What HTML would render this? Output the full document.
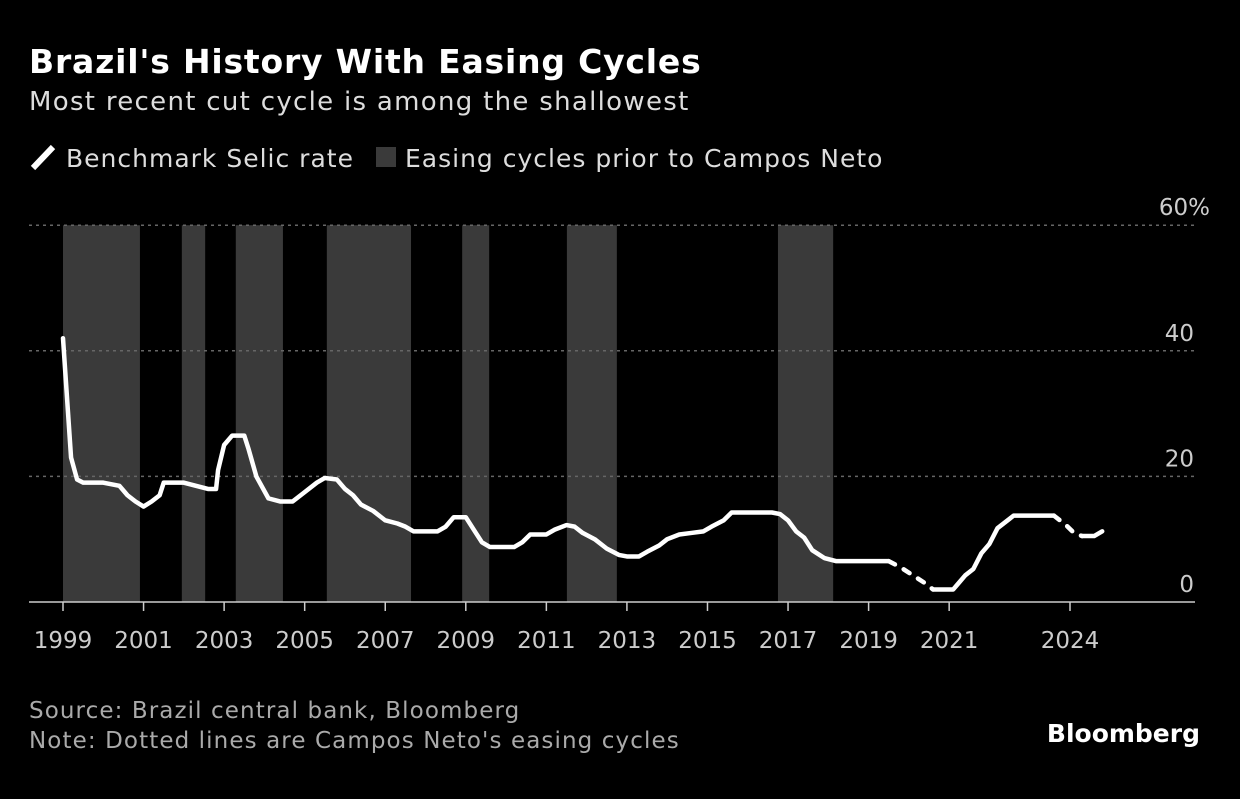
<!DOCTYPE html>
<html><head><meta charset="utf-8"><style>
body{margin:0;background:#000;width:1240px;height:794px;overflow:hidden;font-family:"Liberation Sans","DejaVu Sans",sans-serif;}
svg text{font-family:"DejaVu Sans","Liberation Sans",sans-serif;}
</style></head><body>
<svg id="chart" width="1240" height="794" xmlns="http://www.w3.org/2000/svg">
<text x="29" y="73" fill="#fff" font-size="33" font-weight="bold" letter-spacing="0.8">Brazil's History With Easing Cycles</text>
<text x="29" y="110" fill="#ddd" font-size="26" letter-spacing="1.3">Most recent cut cycle is among the shallowest</text>
<g>
<line x1="33" y1="168" x2="53" y2="147" stroke="#fff" stroke-width="6"/>
<text x="66" y="167" fill="#ddd" font-size="25" letter-spacing="1">Benchmark Selic rate</text>
<rect x="376" y="147" width="20" height="20" fill="#3a3a3a"/>
<text x="405" y="167" fill="#ddd" font-size="25" letter-spacing="1">Easing cycles prior to Campos Neto</text>
</g>
<g id="bands"></g><g id="grid"></g><g id="series"></g><g id="xaxis"></g>
<text x="29" y="718" fill="#aaa" font-size="23" letter-spacing="1.1">Source: Brazil central bank, Bloomberg</text>
<text x="29" y="748" fill="#aaa" font-size="23" letter-spacing="1.1">Note: Dotted lines are Campos Neto's easing cycles</text>
<text x="1200" y="742" fill="#fff" font-size="25" font-weight="bold" text-anchor="end" font-family="Liberation Sans">Bloomberg</text>
</svg>
<script>
const yTicks=[0,20,40,60];
const xTickYears=[1999,2001,2003,2005,2007,2009,2011,2013,2015,2017,2019,2021,2024];
const bandStarts=[1999.0,2001.95,2003.29,2005.55,2008.91,2011.51,2016.75];
const bandEnds=[2000.91,2002.53,2004.46,2007.64,2009.58,2012.75,2018.12];
const dottedStarts=[2019.5,2023.6];
const dottedEnds=[2020.6,2024.3];
const years=[1999.0,1999.2,1999.35,1999.5,2000.0,2000.4,2000.6,2000.8,2001.0,2001.2,2001.4,2001.5,2002.0,2002.3,2002.6,2002.8,2002.85,2003.0,2003.2,2003.5,2003.6,2003.8,2004.1,2004.4,2004.7,2005.0,2005.3,2005.5,2005.8,2006.0,2006.2,2006.4,2006.7,2007.0,2007.3,2007.5,2007.7,2008.3,2008.5,2008.7,2009.0,2009.2,2009.4,2009.6,2010.2,2010.4,2010.6,2011.0,2011.2,2011.5,2011.7,2011.9,2012.2,2012.5,2012.8,2013.0,2013.3,2013.5,2013.8,2014.0,2014.3,2014.6,2014.9,2015.1,2015.4,2015.6,2016.6,2016.8,2017.0,2017.2,2017.4,2017.6,2017.9,2018.2,2019.5,2019.8,2020.1,2020.4,2020.6,2021.1,2021.2,2021.4,2021.6,2021.8,2022.0,2022.2,2022.5,2022.6,2023.6,2023.9,2024.1,2024.3,2024.6,2024.8];
const rates=[42,23,19.5,19,19,18.5,17,16,15.2,16,17,19,19,18.5,18,18,21,25,26.5,26.5,24.5,20,16.5,16,16,17.5,19,19.75,19.5,18,17,15.5,14.5,13,12.5,12,11.25,11.25,12,13.5,13.5,11.5,9.5,8.75,8.75,9.5,10.75,10.75,11.5,12.25,12,11,10,8.5,7.5,7.25,7.25,8,9,10,10.75,11,11.25,12,13,14.25,14.25,14,13,11.25,10.25,8.25,7,6.5,6.5,5.5,4.25,3,2,2,2.75,4.25,5.25,7.75,9.25,11.75,13.25,13.75,13.75,12.25,11,10.5,10.5,11.25];
const NS="http://www.w3.org/2000/svg";
const X=y=>63+(y-1999)*40.28;
const Y=v=>602-v*6.28;
function mk(t,a,p){const e=document.createElementNS(NS,t);for(const k in a)e.setAttribute(k,a[k]);p.appendChild(e);return e;}
const bands=document.getElementById('bands');
bandStarts.forEach((s,i)=>{const r=mk('rect',{x:X(s),y:Y(60),width:X(bandEnds[i])-X(s),height:Y(0)-Y(60),fill:'#3a3a3a'},bands);

});
const grid=document.getElementById('grid');
yTicks.forEach(v=>{
 if(v>0){const l=mk('line',{x1:29,x2:1195,y1:Y(v),y2:Y(v),stroke:'#666','stroke-width':1.5,'stroke-dasharray':'3 4'},grid);
 
 }
 const t=mk('text',{x:1194,y:Y(v)-10,fill:'#ccc','font-size':23,'text-anchor':'end'},grid);
 t.textContent=String(v);
 if(v===60){const sp=mk('tspan',{},t);sp.textContent='%';t.setAttribute('x',1210);}
 
 
});
const base=mk('line',{x1:29,x2:1195,y1:Y(0),y2:Y(0),stroke:'#ccc','stroke-width':1.5},grid);


const xa=document.getElementById('xaxis');
xTickYears.forEach(y=>{
 const l=mk('line',{x1:X(y),x2:X(y),y1:Y(0),y2:Y(0)+9,stroke:'#ccc','stroke-width':1.5},xa);
 
 
 const t=mk('text',{x:X(y),y:648,fill:'#ccc','font-size':23,'text-anchor':'middle'},xa);
 t.textContent=String(y);
 
 
});
const isDot=(a,b)=>dottedStarts.some((s,i)=>a>=s-1e-9&&b<=dottedEnds[i]+1e-9);
const ser=document.getElementById('series');
let segs=[];let cur=null;
for(let i=0;i<years.length-1;i++){
 const d=isDot(years[i],years[i+1]);
 if(!cur||cur.d!==d){cur={d,pts:[[years[i],rates[i]]]};segs.push(cur);}
 cur.pts.push([years[i+1],rates[i+1]]);
}
segs.forEach(s=>{
 const p=mk('polyline',{points:s.pts.map(q=>X(q[0])+','+Y(q[1])).join(' '),fill:'none',stroke:'#fff','stroke-width':4.5,'stroke-linejoin':'round','stroke-linecap':'round','stroke-dasharray':s.d?'7 10':'none'},ser);
 
 
});
</script>
</body></html>
